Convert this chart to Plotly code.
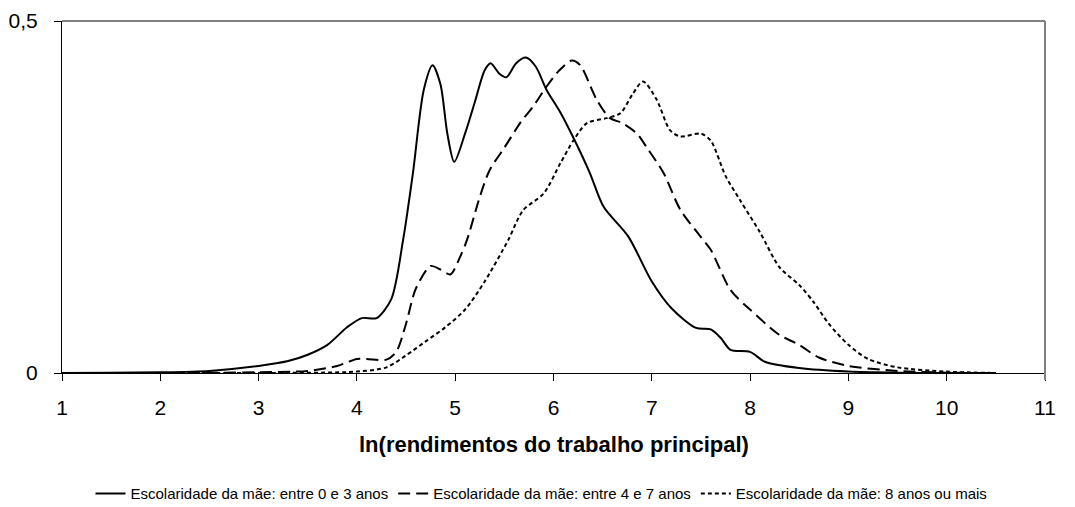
import plotly.graph_objects as go

# Solid: Escolaridade da mãe: entre 0 e 3 anos
x_a = [1.0, 1.5, 2.0, 2.5, 3.0, 3.3, 3.5, 3.7, 3.9, 4.05, 4.2, 4.35, 4.47, 4.57, 4.68, 4.77,
       4.85, 4.92, 4.99, 5.1, 5.2, 5.3, 5.36, 5.45, 5.52, 5.62, 5.72, 5.82, 5.93, 6.07, 6.21,
       6.37, 6.51, 6.76, 7.0, 7.2, 7.45, 7.6, 7.7, 7.8, 8.0, 8.15, 8.5, 9.0, 9.5, 10.0, 10.5]
y_a = [0.0, 0.0005, 0.001, 0.003, 0.01, 0.017, 0.026, 0.04, 0.065, 0.078, 0.078, 0.105, 0.189,
       0.284, 0.402, 0.437, 0.41, 0.34, 0.30, 0.34, 0.385, 0.43, 0.44, 0.425, 0.42, 0.44, 0.448,
       0.435, 0.402, 0.37, 0.332, 0.284, 0.236, 0.194, 0.13, 0.092, 0.064, 0.062, 0.05, 0.033,
       0.03, 0.016, 0.007, 0.002, 0.0005, 0.0, 0.0]

# Long dash: Escolaridade da mãe: entre 4 e 7 anos
x_b = [1.0, 2.0, 3.0, 3.5, 3.8, 4.0, 4.1, 4.3, 4.4, 4.5, 4.6, 4.75, 4.85, 4.95, 5.05, 5.12,
       5.25, 5.35, 5.5, 5.66, 5.8, 5.93, 6.06, 6.185, 6.27, 6.44, 6.575, 6.7, 6.85, 6.95, 7.12,
       7.29, 7.5, 7.6, 7.8, 8.0, 8.3, 8.5, 8.7, 9.0, 9.5, 10.0, 10.5]
y_b = [0.0, 0.0, 0.001, 0.003, 0.01, 0.02, 0.02, 0.019, 0.03, 0.07, 0.12, 0.152, 0.147, 0.14,
       0.165, 0.189, 0.25, 0.288, 0.32, 0.355, 0.38, 0.407, 0.43, 0.444, 0.4375, 0.388, 0.362,
       0.355, 0.34, 0.32, 0.284, 0.232, 0.193, 0.175, 0.118, 0.09, 0.054, 0.04, 0.022, 0.01,
       0.003, 0.0005, 0.0]

# Short dash: Escolaridade da mãe: 8 anos ou mais
x_c = [1.0, 2.0, 3.0, 4.0, 4.3, 4.5, 4.7, 4.9, 5.1, 5.3, 5.54, 5.69, 5.9, 6.07, 6.21, 6.34,
       6.54, 6.68, 6.8, 6.91, 7.05, 7.185, 7.29, 7.5, 7.6, 7.75, 7.9, 8.1, 8.3, 8.5, 8.65, 8.8,
       9.0, 9.2, 9.5, 10.0, 10.5]
y_c = [0.0, 0.0, 0.0, 0.002, 0.008, 0.025, 0.045, 0.065, 0.09, 0.13, 0.189, 0.231, 0.255, 0.298,
       0.332, 0.355, 0.362, 0.369, 0.395, 0.414, 0.388, 0.345, 0.336, 0.34, 0.33, 0.28, 0.245,
       0.2, 0.15, 0.125, 0.1, 0.07, 0.04, 0.02, 0.008, 0.002, 0.0]

names = ["Escolaridade da mãe: entre 0 e 3 anos",
         "Escolaridade da mãe: entre 4 e 7 anos",
         "Escolaridade da mãe: 8 anos ou mais"]
x_ticks = [1, 2, 3, 4, 5, 6, 7, 8, 9, 10, 11]
y_ticks = [0, 0.5]
y_ticktext = ["0", "0,5"]
x_title = "ln(rendimentos do trabalho principal)"

fig = go.Figure()
for xs, ys, nm, dash in [(x_a, y_a, names[0], "solid"),
                         (x_b, y_b, names[1], "12px,6px"),
                         (x_c, y_c, names[2], "4px,3px")]:
    fig.add_trace(go.Scatter(x=xs, y=ys, mode="lines", name=nm,
                             line=dict(color="black", width=2, dash=dash, shape="spline", smoothing=0.8)))

# The page body has an 8px default margin, so the figure is sized/offset to compensate.
fig.update_layout(
    width=1067, height=499,
    margin=dict(l=54, r=30, t=13, b=134, autoexpand=False),
    paper_bgcolor="white", plot_bgcolor="white",
    font=dict(family="Liberation Sans, Arial, sans-serif", color="black"),
    showlegend=True,
    legend=dict(orientation="h", xref="container", x=0.5, xanchor="center",
                yref="paper", y=-0.343, yanchor="middle",
                font=dict(size=15), tracegroupgap=0),
    xaxis=dict(range=[1, 11], tickvals=x_ticks, ticks="outside", ticklen=7, tickcolor="black",
               showline=True, linecolor="black", linewidth=1, showgrid=False, zeroline=False,
               tickfont=dict(size=21), ticklabelstandoff=9, automargin=False),
    yaxis=dict(range=[0, 0.5], tickvals=y_ticks, ticktext=y_ticktext, ticks="outside", ticklen=7,
               tickcolor="black", showline=True, linecolor="black", linewidth=1, showgrid=False,
               zeroline=False, tickfont=dict(size=21), ticklabelstandoff=12, automargin=False),
    annotations=[dict(text="<b>" + x_title + "</b>", xref="paper", yref="paper", x=0.5, y=-0.2045,
                      xanchor="center", yanchor="middle", showarrow=False, font=dict(size=22))],
    shapes=[dict(type="line", xref="paper", yref="paper", x0=0, x1=1, y0=1, y1=1,
                 line=dict(color="#808080", width=2)),
            dict(type="line", xref="paper", yref="paper", x0=1, x1=1, y0=-0.02, y1=1,
                 line=dict(color="#808080", width=2))],
)

fig.write_html("out.html")
